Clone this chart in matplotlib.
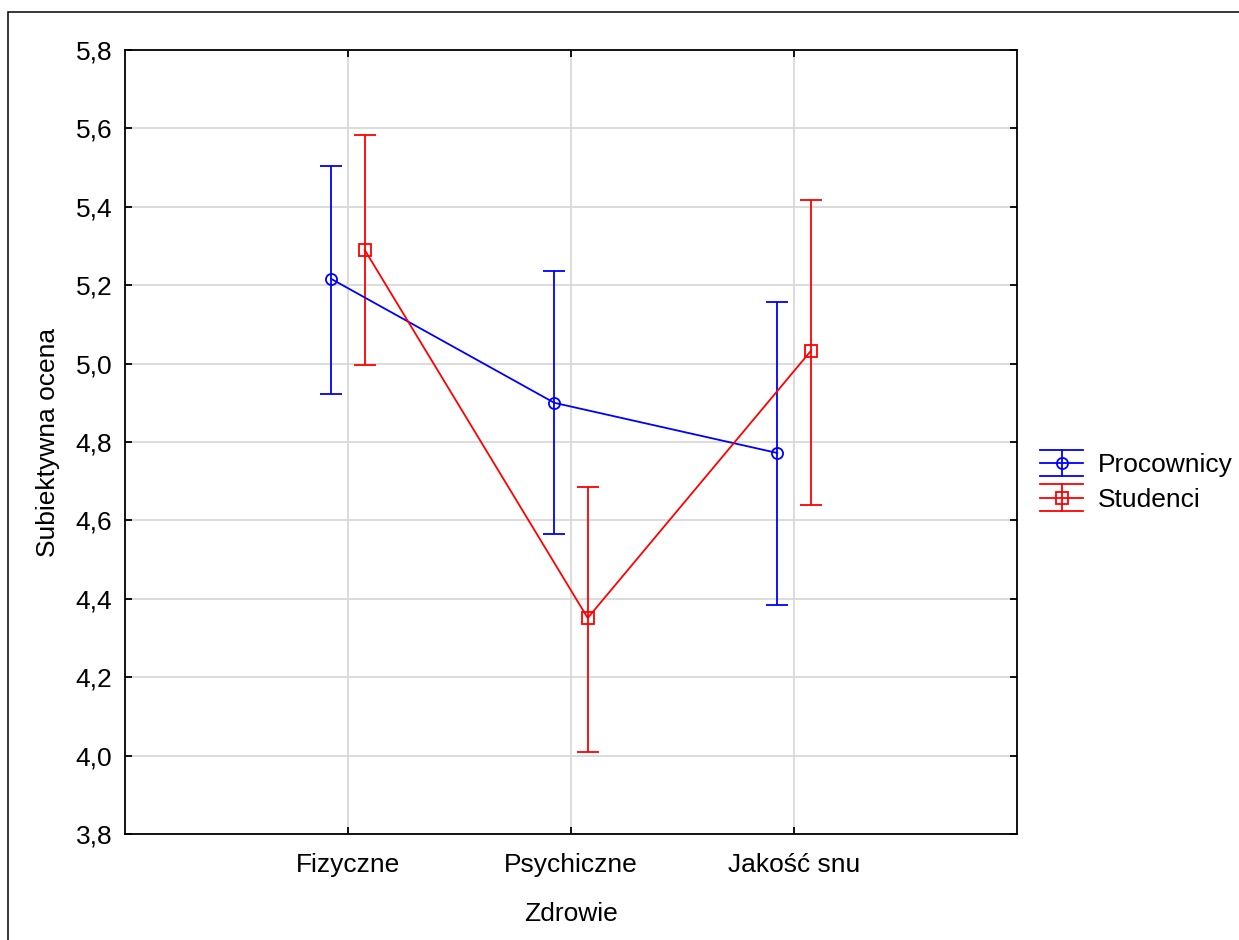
import matplotlib
matplotlib.use("Agg")
import matplotlib.pyplot as plt
import numpy as np
from matplotlib.lines import Line2D
from matplotlib.legend_handler import HandlerBase
from matplotlib.patches import Rectangle
from matplotlib.ticker import FuncFormatter

plt.rcParams["font.family"] = ["Liberation Sans", "DejaVu Sans"]

# data
categories = ["Fizyczne", "Psychiczne", "Jakość snu"]
groups = ["Procownicy", "Studenci"]
prac_mean = [5.216, 4.900, 4.772]
prac_low = [4.922, 4.565, 4.384]
prac_high = [5.504, 5.236, 5.157]
stud_mean = [5.290, 4.351, 5.032]
stud_low = [4.996, 4.009, 4.639]
stud_high = [5.583, 4.685, 5.417]
y_ticks = [3.8, 4.0, 4.2, 4.4, 4.6, 4.8, 5.0, 5.2, 5.4, 5.6, 5.8]

BLUE = "#0000ff"
RED = "#ff0000"
FS = 19
MS = 8

fig = plt.figure(figsize=(12.39, 9.40), dpi=100)
ax = fig.add_axes([125 / 1239, 106 / 940, (1017 - 125) / 1239, (834 - 50) / 940])

# outer frame
fig.patches.append(Rectangle((7.5 / 1239, -0.1), 1.2, 1.1 - 12 / 940,
                             transform=fig.transFigure, fill=False,
                             edgecolor="black", linewidth=1.1))

x = np.arange(len(categories))
off = 0.075
series = [
    (prac_mean, prac_low, prac_high, BLUE, "o", -off),
    (stud_mean, stud_low, stud_high, RED, "s", off),
]
for mean, low, high, col, mk, dx in series:
    mean = np.array(mean)
    yerr = [mean - np.array(low), np.array(high) - mean]
    ax.errorbar(x + dx, mean, yerr=yerr, color=col, ecolor=col,
                marker=mk, markersize=MS, markerfacecolor="none",
                markeredgecolor=col, markeredgewidth=1.3,
                linewidth=1.3, elinewidth=1.3, capsize=8, capthick=1.3,
                zorder=3)

ax.set_xlim(-1, 3)
ax.set_ylim(3.8, 5.8)
ax.set_xticks(x)
ax.set_xticklabels(categories)
ax.set_yticks(y_ticks)
ax.yaxis.set_major_formatter(FuncFormatter(lambda v, p: f"{v:.1f}".replace(".", ",")))

ax.grid(True, color="#d9d9d9", linewidth=1.3, zorder=0)
ax.set_axisbelow(True)
for s in ax.spines.values():
    s.set_linewidth(1.3)
ax.tick_params(direction="in", length=5, width=1.3, top=True, right=True,
               labelsize=FS)
ax.tick_params(axis="y", pad=9)
ax.tick_params(axis="x", pad=14)

ax.set_xlabel("Zdrowie", fontsize=FS, labelpad=18)
ax.set_ylabel("Subiektywna ocena", fontsize=FS, labelpad=11)


class ErrHandle(HandlerBase):
    def __init__(self, color, marker):
        super().__init__()
        self.color = color
        self.marker = marker

    def create_artists(self, legend, orig_handle, xdescent, ydescent,
                       width, height, fontsize, trans):
        cy = height / 2 - ydescent
        h = 9.5
        x0, x1 = -xdescent, width - xdescent
        mx = (x0 + x1) / 2
        arts = []
        for yy in (cy - h, cy, cy + h):
            arts.append(Line2D([x0, x1], [yy, yy], color=self.color, linewidth=1.3))
        arts.append(Line2D([mx, mx], [cy - h, cy + h], color=self.color, linewidth=1.3))
        arts.append(Line2D([mx], [cy], marker=self.marker, markersize=MS,
                           markerfacecolor="none", markeredgecolor=self.color,
                           markeredgewidth=1.3, linestyle="none"))
        for a in arts:
            a.set_transform(trans)
        return arts


h1 = Line2D([], [], color=BLUE)
h2 = Line2D([], [], color=RED)
leg = fig.legend([h1, h2], groups, loc="center left",
                 bbox_to_anchor=(1040 / 1239, 1 - 481.5 / 940),
                 bbox_transform=fig.transFigure, frameon=False, fontsize=FS,
                 handlelength=1.63, handleheight=1.0, handletextpad=0.57,
                 labelspacing=0.33, borderaxespad=0, borderpad=0,
                 handler_map={h1: ErrHandle(BLUE, "o"), h2: ErrHandle(RED, "s")})

fig.savefig("out.png", dpi=100)
